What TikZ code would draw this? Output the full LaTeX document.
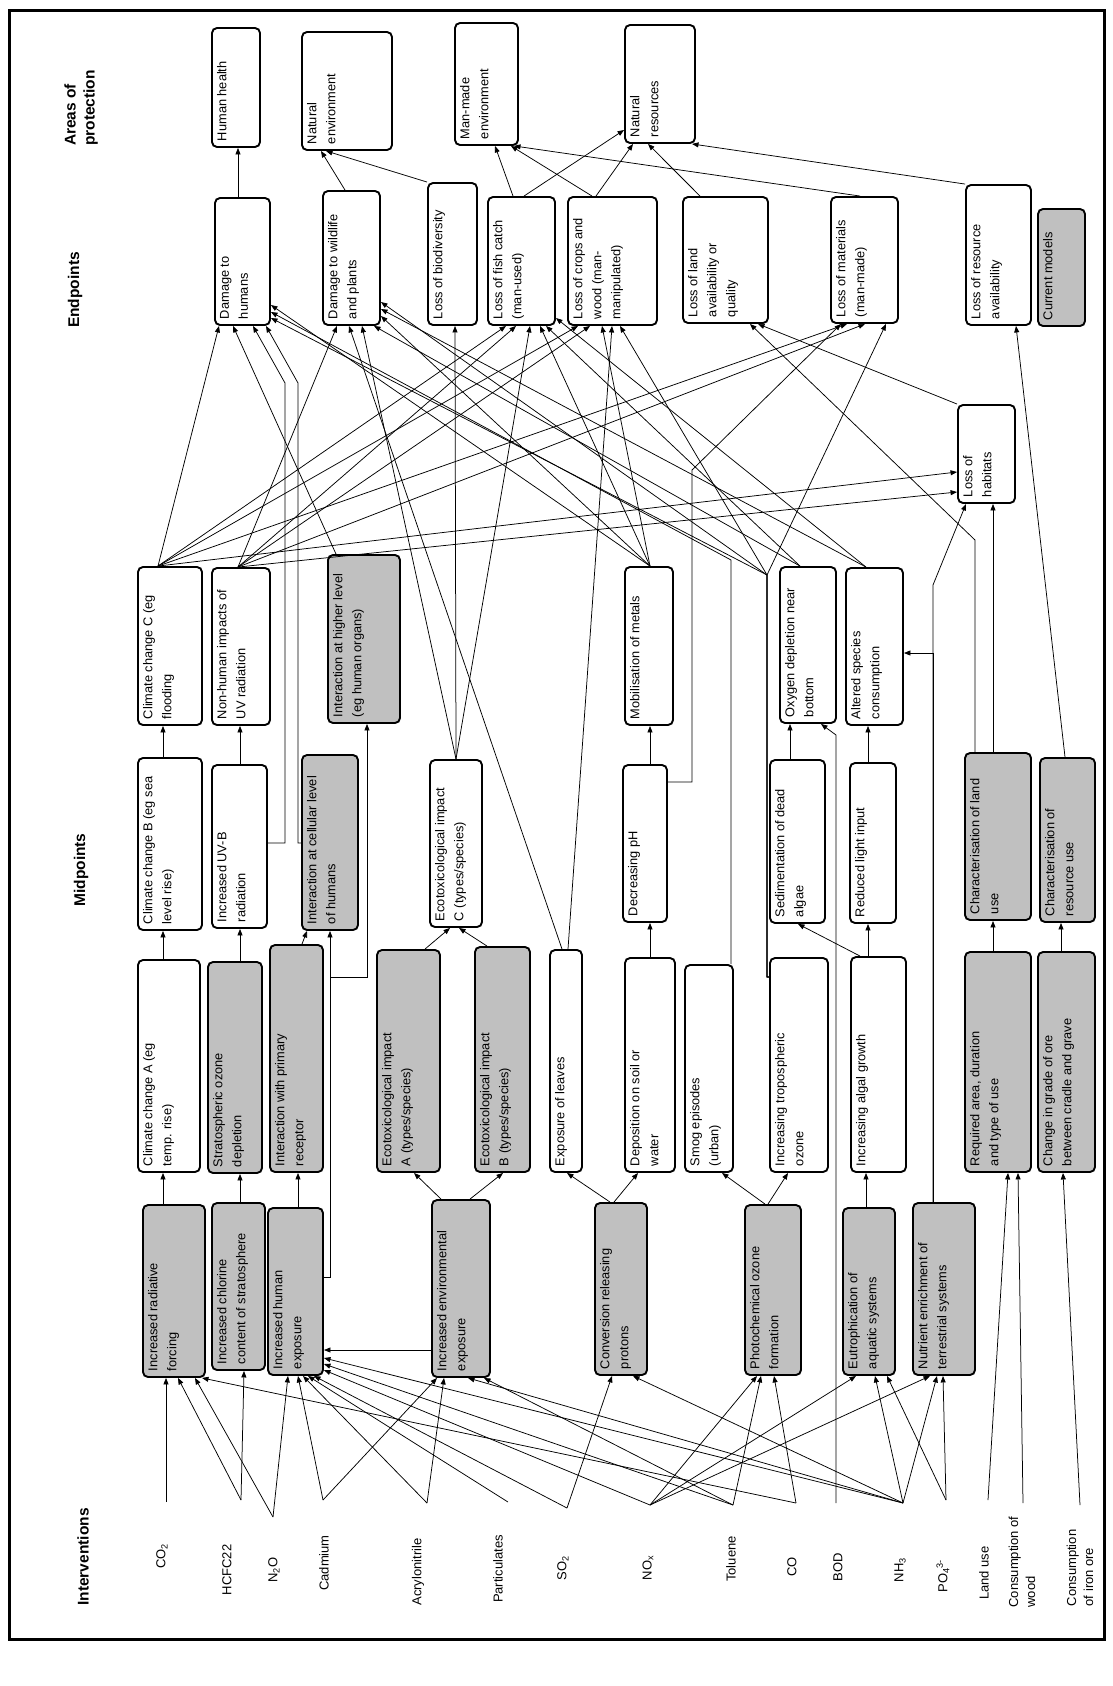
\documentclass[tikz,border=0pt]{standalone}
\usepackage{fontspec}
\setmainfont{Liberation Sans}
\usetikzlibrary{arrows.meta}
\definecolor{boxgray}{RGB}{192,192,192}
\tikzset{
  ebox/.style={draw, line width=1.9pt, rounded corners=5pt, rotate=90,
     inner xsep=6pt, inner ysep=5pt, font=\fontsize{12.8}{19}\selectfont},
  arr/.style={line width=0.75pt, -{Triangle[length=6.5pt,width=5pt]}},
  lab/.style={rotate=90, font=\fontsize{13}{17}\selectfont, align=left, inner sep=0pt},
  hdr/.style={rotate=90, font=\bfseries\fontsize{15.5}{19}\selectfont, align=left, inner sep=0pt}
}
\newcommand\dbox[7]{%
  \pgfmathsetmacro\dbcx{(#2+#4)/2}%
  \pgfmathsetmacro\dbcy{(#3+#5)/2}%
  \pgfmathsetmacro\dbw{#5-#3-12}%
  \pgfmathsetmacro\dbh{#4-#2-10}%
  \node[ebox, fill=#6, minimum width={#5-#3}, minimum height={#4-#2}] (#1) at (\dbcx,\dbcy)
    {\parbox[c][\dbh pt][t]{\dbw pt}{\raggedright #7}};%
}
\begin{document}
\begin{tikzpicture}[x=1pt,y=-1pt]
\useasboundingbox (0,0) rectangle (1113,1686);
\fill[white] (0,0) rectangle (1113,1686);
\draw[line width=3pt] (9,11) rectangle (1104,1639);

% headers
\node[hdr] (hAoP) at (81,108) {Areas of\\protection};
\node[hdr] (hEnd) at (75,290) {Endpoints};
\node[hdr] (hMid) at (81,870) {Midpoints};
\node[hdr] (hInt) at (83,1557) {Interventions};

% areas of protection
\dbox{hh}{212}{28}{260}{147}{white}{Human health}
\dbox{ne}{302}{32}{392}{150}{white}{Natural\\environment}
\dbox{mme}{455}{23}{518}{145}{white}{Man-made\\environment}
\dbox{nr}{625}{25}{695}{143}{white}{Natural\\resources}

% endpoints
\dbox{dh}{215}{198}{270}{325}{white}{Damage to\\humans}
\dbox{dw}{323}{191}{380}{325}{white}{Damage to wildlife\\and plants}
\dbox{lb}{428}{183}{477}{325}{white}{Loss of biodiversity}
\dbox{lf}{488}{197}{555}{325}{white}{Loss of fish catch\\(man-used)}
\dbox{lc}{568}{197}{657}{325}{white}{Loss of crops and\\wood (man-\\manipulated)}
\dbox{ll}{683}{197}{768}{323}{white}{Loss of land\\availability or\\quality}
\dbox{lm}{831}{197}{898}{323}{white}{Loss of materials\\(man-made)}
\dbox{lr}{966}{185}{1031}{325}{white}{Loss of resource\\availability}
\dbox{cm}{1038}{209}{1085}{326}{boxgray}{Current models}
\dbox{lh}{958}{405}{1015}{503}{white}{Loss of\\habitats}

% midpoints, upper row
\dbox{ccc}{138}{567}{202}{725}{white}{Climate change C (eg\\flooding}
\dbox{nhu}{212}{568}{270}{725}{white}{Non-human impacts of\\UV radiation}
\dbox{ihl}{328}{555}{400}{723}{boxgray}{Interaction at higher level\\(eg human organs)}
\dbox{mob}{625}{567}{673}{725}{white}{Mobilisation of metals}
\dbox{oxy}{780}{567}{836}{723}{white}{Oxygen depletion near\\bottom}
\dbox{asc}{846}{568}{903}{725}{white}{Altered species\\consumption}
\dbox{ecc}{430}{760}{482}{927}{white}{Ecotoxicological impact\\C (types/species)}

% midpoints, middle row
\dbox{ccb}{138}{758}{202}{930}{white}{Climate change B (eg sea\\level rise)}
\dbox{uvb}{212}{765}{267}{928}{white}{Increased UV-B\\radiation}
\dbox{icl}{302}{755}{358}{930}{boxgray}{Interaction at cellular level\\of humans}
\dbox{dph}{623}{765}{667}{922}{white}{Decreasing pH}
\dbox{sda}{770}{760}{825}{923}{white}{Sedimentation of dead\\algae}
\dbox{rli}{850}{763}{896}{923}{white}{Reduced light input}
\dbox{cla}{965}{753}{1031}{920}{boxgray}{Characterisation of land\\use}
\dbox{cru}{1040}{758}{1095}{922}{boxgray}{Characterisation of\\resource use}

% midpoints, lower row
\dbox{cca}{138}{960}{200}{1172}{white}{Climate change A (eg\\temp. rise)}
\dbox{sod}{208}{962}{262}{1173}{boxgray}{Stratospheric ozone\\depletion}
\dbox{ipr}{270}{945}{323}{1172}{boxgray}{Interaction with primary\\receptor}
\dbox{eca}{377}{950}{440}{1172}{boxgray}{Ecotoxicological impact\\A (types/species)}
\dbox{ecb}{475}{947}{530}{1172}{boxgray}{Ecotoxicological impact\\B (types/species)}
\dbox{exl}{550}{950}{582}{1172}{white}{Exposure of leaves}
\dbox{dsw}{625}{958}{675}{1172}{white}{Deposition on soil or\\water}
\dbox{smg}{685}{965}{733}{1172}{white}{Smog episodes\\(urban)}
\dbox{ito}{770}{958}{828}{1172}{white}{Increasing tropospheric\\ozone}
\dbox{iag}{851}{957}{906}{1172}{white}{Increasing algal growth}
\dbox{rad}{965}{952}{1031}{1172}{boxgray}{Required area, duration\\and type of use}
\dbox{cgo}{1038}{952}{1095}{1172}{boxgray}{Change in grade of ore\\between cradle and grave}

% first processes
\dbox{irf}{143}{1205}{205}{1377}{boxgray}{Increased radiative\\forcing}
\dbox{icc}{212}{1203}{265}{1370}{boxgray}{Increased chlorine\\content of stratosphere}
\dbox{ihe}{268}{1208}{323}{1375}{boxgray}{Increased human\\exposure}
\dbox{iee}{432}{1200}{490}{1377}{boxgray}{Increased environmental\\exposure}
\dbox{crp}{595}{1203}{647}{1375}{boxgray}{Conversion releasing\\protons}
\dbox{pof}{745}{1205}{801}{1375}{boxgray}{Photochemical ozone\\formation}
\dbox{eut}{843}{1208}{895}{1375}{boxgray}{Eutrophication of\\aquatic systems}
\dbox{net}{913}{1203}{975}{1375}{boxgray}{Nutrient enrichment of\\terrestrial systems}

% intervention labels
\node[lab] (lCO) at (162,1556) {CO\textsubscript{2}};
\node[lab] (lHC) at (227,1570) {HCFC22};
\node[lab] (lNO) at (274,1570) {N\textsubscript{2}O};
\node[lab] (lCd) at (324,1563) {Cadmium};
\node[lab] (lAc) at (418,1572) {Acrylonitrile};
\node[lab] (lPa) at (498,1569) {Particulates};
\node[lab] (lSO) at (563,1568) {SO\textsubscript{2}};
\node[lab] (lNX) at (648,1568) {NO\textsubscript{x}};
\node[lab] (lTo) at (731,1559) {Toluene};
\node[lab] (lCOm) at (792,1567) {CO};
\node[lab] (lBOD) at (838,1567) {BOD};
\node[lab] (lNH) at (900,1570) {NH\textsubscript{3}};
\node[lab] (lPO) at (943,1576) {PO\textsubscript{4}\textsuperscript{3-}};
\node[lab] (lLU) at (984,1573) {Land use};
\node[lab] (lCW) at (1022,1562) {Consumption of\\wood};
\node[lab] (lCI) at (1080,1568) {Consumption\\of iron ore};

% connector start points
\coordinate (sCO) at (166,1502);
\coordinate (sHC) at (241,1500);
\coordinate (sNO) at (273,1517);
\coordinate (sCd) at (323,1500);
\coordinate (sAc) at (427,1503);
\coordinate (sPa) at (508,1502);
\coordinate (sSO) at (567,1508);
\coordinate (sNX) at (650,1505);
\coordinate (sTo) at (733,1505);
\coordinate (sCOm) at (796,1503);
\coordinate (sBOD) at (836,1503);
\coordinate (sNH) at (903,1503);
\coordinate (sPO) at (946,1500);
\coordinate (sLU) at (988,1500);
\coordinate (sCW) at (1023,1503);
\coordinate (sCI) at (1080,1505);

% interventions -> first processes
\draw[arr] (sCO) -- (irf.west -| 166,0);
\draw[arr] (sHC) -- (irf.west -| 178,0);
\draw[arr] (sHC) -- (icc.west -| 244,0);
\draw[arr] (sNO) -- (irf.west -| 195,0);
\draw[arr] (sNO) -- (ihe.west -| 288,0);
\draw[arr] (sCd) -- (ihe.west -| 298,0);
\draw[arr] (sCd) -- (iee.west -| 437,0);
\draw[arr] (sAc) -- (ihe.west -| 303,0);
\draw[arr] (sAc) -- (iee.west -| 444,0);
\draw[arr] (sPa) -- (ihe.west -| 308,0);
\draw[arr] (sSO) -- (ihe.west -| 314,0);
\draw[arr] (sSO) -- (crp.west -| 612,0);
\draw[arr] (sNX) -- (ihe.south |- 0,1370);
\draw[arr] (sNX) -- (pof.west -| 757,0);
\draw[arr] (sNX) -- (eut.west -| 856,0);
\draw[arr] (sNX) -- (net.west -| 930,0);
\draw[arr] (sTo) -- (ihe.south |- 0,1364);
\draw[arr] (sTo) -- (iee.west -| 484,0);
\draw[arr] (sTo) -- (pof.west -| 761,0);
\draw[arr] (sCOm) -- (irf.west -| 202,0);
\draw[arr] (sCOm) -- (pof.west -| 774,0);
\draw[arr] (sBOD) -- (836,735) -- (oxy.west -| 821,0);
\draw[arr] (sNH) -- (ihe.south |- 0,1358);
\draw[arr] (sNH) -- (iee.west -| 468,0);
\draw[arr] (sNH) -- (crp.west -| 633,0);
\draw[arr] (sNH) -- (eut.west -| 875,0);
\draw[arr] (sNH) -- (net.west -| 937,0);
\draw[arr] (sPO) -- (eut.west -| 887,0);
\draw[arr] (sPO) -- (net.west -| 943,0);
\draw[arr] (sLU) -- (rad.west -| 1008,0);
\draw[arr] (sCW) -- (rad.west -| 1018,0);
\draw[arr] (sCI) -- (cgo.west -| 1063,0);

% first processes -> lower midpoints
\draw[arr] (irf.east -| 163,0) -- (cca.west -| 163,0);
\draw[arr] (icc.east -| 240,0) -- (sod.west -| 240,0);
\draw[arr] (ihe.east -| 298,0) -- (ipr.west -| 298,0);
\draw[arr] (iee.north |- 0,1350) -- (ihe.south |- 0,1350);
\draw[arr] (iee.east -| 441,0) -- (eca.west -| 414,0);
\draw[arr] (iee.east -| 470,0) -- (ecb.west -| 503,0);
\draw[arr] (crp.east -| 610,0) -- (exl.west -| 567,0);
\draw[arr] (crp.east -| 614,0) -- (dsw.west -| 638,0);
\draw[arr] (pof.east -| 765,0) -- (smg.west -| 722,0);
\draw[arr] (pof.east -| 768,0) -- (ito.west -| 788,0);
\draw[arr] (eut.east -| 866,0) -- (iag.west -| 866,0);
\draw[arr] (net.east -| 933,0) -- (933,585) -- (lh.west -| 966,0);
\draw[arr] (net.east -| 933,0) -- (933,653) -- (asc.south |- 0,653);
\draw[arr] (ihe.south |- 0,1277) -- (330,1277) -- (icl.west -| 330,0);
\draw[arr] (ihe.south |- 0,1277) -- (330,1277) -- (330,977) -- (367,977) -- (ihl.west -| 367,0);
\draw[arr] (rad.east -| 993,0) -- (cla.west -| 993,0);
\draw[arr] (cgo.east -| 1061,0) -- (cru.west -| 1061,0);

% lower -> middle midpoints
\draw[arr] (cca.east -| 163,0) -- (ccb.west -| 163,0);
\draw[arr] (sod.east -| 240,0) -- (uvb.west -| 240,0);
\draw[arr] (ipr.east -| 302,0) -- (icl.west -| 307,0);
\draw[arr] (eca.east -| 425,0) -- (ecc.west -| 450,0);
\draw[arr] (ecb.east -| 487,0) -- (ecc.west -| 459,0);
\draw[arr] (dsw.east -| 650,0) -- (dph.west -| 650,0);
\draw[arr] (iag.east -| 868,0) -- (rli.west -| 868,0);
\draw[arr] (iag.east -| 860,0) -- (sda.west -| 798,0);

% middle -> upper midpoints
\draw[arr] (ccb.east -| 163,0) -- (ccc.west -| 163,0);
\draw[arr] (uvb.east -| 240,0) -- (nhu.west -| 240,0);
\draw[arr] (dph.east -| 650,0) -- (mob.west -| 650,0);
\draw[arr] (sda.east -| 790,0) -- (oxy.west -| 790,0);
\draw[arr] (rli.east -| 868,0) -- (asc.west -| 868,0);

% midpoints -> endpoints
\draw[arr] (uvb.south |- 0,843) -- (285,843) -- (285,383) -- (dh.west -| 253,0);
\draw[arr] (icl.north |- 0,843) -- (298,843) -- (298,383) -- (dh.west -| 266,0);
\draw[arr] (dph.south |- 0,782) -- (692,782) -- (692,470) -- (lm.west -| 841,0);
\draw[arr] (cla.east -| 993,0) -- (lh.west -| 993,0);
\draw[arr] (cla.east -| 975,0) -- (975,540) -- (ll.west -| 750,0);
\draw[arr] (cru.east -| 1065,0) -- (lr.west -| 1016,0);

\draw[arr] (ccc.east -| 158,0) -- (dh.west -| 219,0);
\draw[arr] (ccc.east -| 158,0) -- (lf.west -| 506,0);
\draw[arr] (ccc.east -| 158,0) -- (lc.west -| 578,0);
\draw[arr] (ccc.east -| 158,0) -- (lm.west -| 847,0);
\draw[arr] (ccc.east -| 158,0) -- (lh.north |- 0,472);
\draw[arr] (nhu.east -| 238,0) -- (dw.west -| 337,0);
\draw[arr] (nhu.east -| 238,0) -- (lf.west -| 516,0);
\draw[arr] (nhu.east -| 238,0) -- (lc.west -| 590,0);
\draw[arr] (nhu.east -| 238,0) -- (lm.west -| 865,0);
\draw[arr] (nhu.east -| 238,0) -- (lh.north |- 0,492);
\draw[arr] (ihl.east -| 336,0) -- (dh.west -| 233,0);
\draw[arr] (ecc.east -| 456,0) -- (dw.west -| 362,0);
\draw[arr] (ecc.east -| 456,0) -- (lb.west -| 455,0);
\draw[arr] (ecc.east -| 456,0) -- (lf.west -| 530,0);
\draw[arr] (exl.east -| 562,0) -- (dw.west -| 349,0);
\draw[arr] (exl.east -| 568,0) -- (lc.west -| 612,0);
\draw[arr] (mob.east -| 650,0) -- (dh.south |- 0,305);
\draw[arr] (mob.east -| 650,0) -- (dw.south |- 0,316);
\draw[arr] (mob.east -| 650,0) -- (lf.west -| 540,0);
\draw[arr] (mob.east -| 650,0) -- (lc.west -| 602,0);
\draw[arr] (oxy.east -| 800,0) -- (dw.west -| 374,0);
\draw[arr] (oxy.east -| 800,0) -- (lf.west -| 546,0);
\draw[arr] (asc.east -| 866,0) -- (dw.south |- 0,309);
\draw[arr] (asc.east -| 866,0) -- (lf.south |- 0,318);
\draw[arr] (smg.east -| 731,0) -- (731,560) -- (dh.south |- 0,312);
\draw[arr] (ito.north |- 0,977) -- (767,977) -- (767,575) -- (dh.south |- 0,318);
\draw[arr] (ito.north |- 0,977) -- (767,977) -- (767,575) -- (dw.south |- 0,302);
\draw[arr] (ito.north |- 0,977) -- (767,977) -- (767,575) -- (lc.west -| 620,0);
\draw[arr] (ito.north |- 0,977) -- (767,977) -- (767,575) -- (lm.west -| 886,0);

% endpoints -> areas of protection
\draw[arr] (dh.east -| 238,0) -- (hh.west -| 238,0);
\draw[arr] (dw.east -| 345,0) -- (ne.west -| 321,0);
\draw[arr] (lb.north east) -- (ne.west -| 326,0);
\draw[arr] (lf.east -| 513,0) -- (mme.west -| 495,0);
\draw[arr] (lf.east -| 524,0) -- (nr.north |- 0,130);
\draw[arr] (lc.east -| 592,0) -- (mme.west -| 511,0);
\draw[arr] (lc.east -| 596,0) -- (nr.west -| 633,0);
\draw[arr] (ll.east -| 700,0) -- (nr.west -| 648,0);
\draw[arr] (lm.east -| 860,0) -- (mme.west -| 514,0);
\draw[arr] (lr.north east) -- (nr.west -| 692,0);
\draw[arr] (lh.north east) -- (ll.west -| 758,0);
\end{tikzpicture}
\end{document}
